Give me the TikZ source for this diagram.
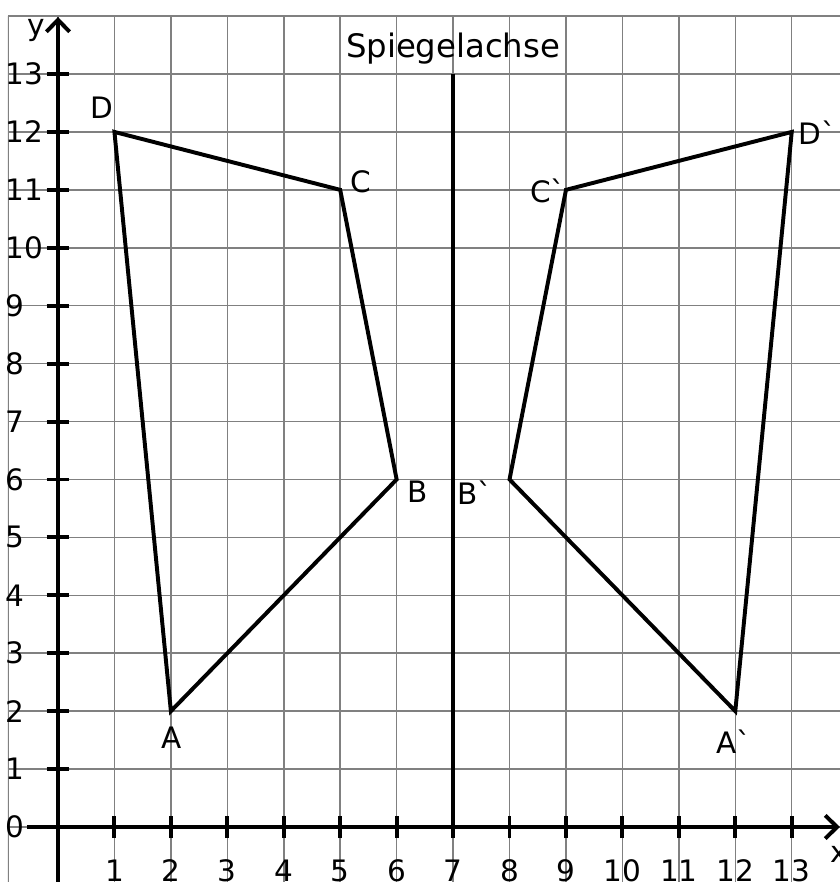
\documentclass[tikz,border=0pt]{standalone}
\usepackage{fontspec}
\setmainfont{DejaVu Sans}[Ligatures=TeXOff]
\usetikzlibrary{arrows.meta}
\begin{document}
\begin{tikzpicture}[x=1.411cm,y=1.448cm,
  gridline/.style={draw=black!50,line width=1.05pt},
  axisline/.style={line width=2.8pt,-{Straight Barb[length=0.3cm,width=0.58cm,line width=2.8pt]}},
  tickmark/.style={line width=2.8pt},
  figline/.style={line width=2.8pt,line join=miter},
  lbl/.style={inner sep=0pt,font=\fontsize{21}{25}\selectfont},
  biglbl/.style={inner sep=0pt,font=\fontsize{23}{27}\selectfont}]
\useasboundingbox (-1.0276,-0.9496) rectangle (13.855,14.278);
\fill[white] (-1.0276,-0.9496) rectangle (13.855,14.278);
% grid
\begin{scope}
\clip (-0.886,-0.9496) rectangle (13.855,14.02);
\foreach \i in {0,...,13} \draw[gridline] (\i,-1) -- (\i,14);
\foreach \j in {0,...,14} \draw[gridline] (-0.886,\j) -- (13.9,\j);
\draw[gridline] (-0.886,-1) -- (-0.886,14);
\end{scope}
% axes
\coordinate (xs) at (-0.55,0);
\coordinate (xe) at (13.855,0);
\coordinate (ys) at (0,-0.96);
\coordinate (ye) at (0,13.985);
\draw[axisline] (xs) -- (xe);
\draw[axisline] (ys) -- (ye);
\foreach \i in {1,...,13} {
  \draw[tickmark] (\i,-0.19) -- (\i,0.19);
  \node[lbl] at (\i,-0.76) {\i};
}
\foreach \j in {1,...,13} \draw[tickmark] (-0.2,\j) -- (0.2,\j);
\foreach \j in {0,...,13} \node[lbl,anchor=west] at (-0.93,\j) {\j};
\node[lbl] (xl) at (13.85,-0.48) {x};
\node[lbl,anchor=base] (yl) at (-0.38,13.67) {y};
% mirror axis
\coordinate (m0) at (7,0);
\coordinate (m1) at (7,13);
\draw[line width=2.8pt] (m0) -- (m1);
\node[biglbl,anchor=base] (sp) at (7,13.29) {Spiegelachse};
% figures
\coordinate (A) at (2,2);
\coordinate (B) at (6,6);
\coordinate (C) at (5,11);
\coordinate (D) at (1,12);
\coordinate (A') at (12,2);
\coordinate (B') at (8,6);
\coordinate (C') at (9,11);
\coordinate (D') at (13,12);
\draw[figline] (A) -- (B) -- (C) -- (D) -- cycle;
\draw[figline] (A') -- (B') -- (C') -- (D') -- cycle;
\node[lbl] (lA) at (2.02,1.54) {A};
\node[lbl] (lB) at (6.38,5.78) {B};
\node[lbl] (lC) at (5.37,11.14) {C};
\node[lbl] (lD) at (0.78,12.41) {D};
\node[lbl] (lA') at (11.98,1.48) {A`};
\node[lbl] (lB') at (7.39,5.78) {B`};
\node[lbl] (lC') at (8.68,10.98) {C`};
\node[lbl] (lD') at (13.45,11.98) {D`};
\end{tikzpicture}
\end{document}
